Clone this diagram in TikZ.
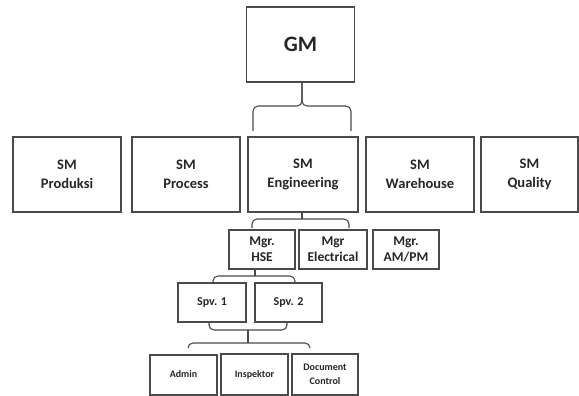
\documentclass[tikz,border=0pt]{standalone}
\usepackage{fontspec}
\setmainfont{Carlito}
\definecolor{boxline}{HTML}{4A4A4A}
\definecolor{boxtext}{HTML}{262626}
\tikzset{
  unit/.style={draw=boxline, line width=1.1pt, fill=white, text=boxtext,
    font=\bfseries, align=center, inner sep=1pt, rectangle},
  smbox/.style={unit, minimum width=108pt, minimum height=75pt,
    font=\fontsize{14.5}{19}\selectfont\bfseries},
  mgrbox/.style={unit, minimum width=66pt, minimum height=39pt,
    font=\fontsize{13.5}{16}\selectfont\bfseries},
  staffbox/.style={unit, minimum width=67pt, minimum height=41pt,
    font=\fontsize{10}{13.5}\selectfont\bfseries},
  brace/.style={draw=boxline, line width=1.1pt, rounded corners=5pt},
}
\begin{document}
\begin{tikzpicture}[x=1pt, y=-1pt]
\useasboundingbox (0,0) rectangle (579,396);
% top
\node[unit, minimum width=108pt, minimum height=75pt, font=\fontsize{22}{24}\selectfont\bfseries] (gm) at (300.5,44.5){GM};
% senior managers
\node[smbox] (smprod) at (67,174.5){SM\\Produksi};
\node[smbox] (smproc) at (186,174.5){SM\\Process};
\node[smbox, minimum width=110pt] (smeng) at (303,174.5){SM\\Engineering};
\node[smbox] (smwh) at (420,174.5){SM\\Warehouse};
\node[smbox, minimum width=97pt] (smqc) at (529.5,174.5){SM\\Quality};
\coordinate (gml) at (253,131);
\coordinate (gmr) at (351,131);
\coordinate (gmc) at (302,106);
\draw[brace] (gml) |- (gmc) -- (gm.south -| gmc);
\draw[brace] (gmr) |- (gmc) -- (gm.south -| gmc);
% managers
\node[mgrbox] (mhse) at (262,249.5){Mgr.\\HSE};
\node[mgrbox, minimum width=68pt] (mel) at (333,249.5){Mgr\\Electrical};
\node[mgrbox] (mam) at (406,249.5){Mgr.\\AM/PM};
\coordinate (engl) at (252,228);
\coordinate (engr) at (349,228);
\draw[brace] (engl) |- (302,219) -| (engr);
\draw[brace] (smeng.south -| 302,0) -- (302,219);
% supervisors
\node[mgrbox, minimum width=68pt, font=\fontsize{12}{14}\selectfont\bfseries] (spv1) at (212,302.5){Spv. 1};
\node[mgrbox, minimum width=67pt, font=\fontsize{12}{14}\selectfont\bfseries] (spv2) at (288.5,302.5){Spv. 2};
\coordinate (hsel) at (213,282);
\coordinate (hser) at (295,282);
\draw[brace] (hsel) |- (255,276) -| (hser);
\draw[brace] (mhse.south -| 255,0) -- (255,276);
% staff
\node[staffbox, minimum height=40pt] (adm) at (183.5,375){\raisebox{3pt}{Admin}};
\node[staffbox] (insp) at (254.5,374.5){Inspektor};
\node[staffbox, minimum width=66pt] (doc) at (325,374.5){Document\\Control};
\coordinate (spvl) at (209,322);
\coordinate (spvr) at (287,322);
\draw[brace] (spvl) |- (248,330) -| (spvr);
\coordinate (stl) at (188,348);
\coordinate (str) at (310,348);
\draw[brace] (stl) |- (248,343) -| (str);
\draw[brace] (248,330) -- (248,343);
\end{tikzpicture}
\end{document}
